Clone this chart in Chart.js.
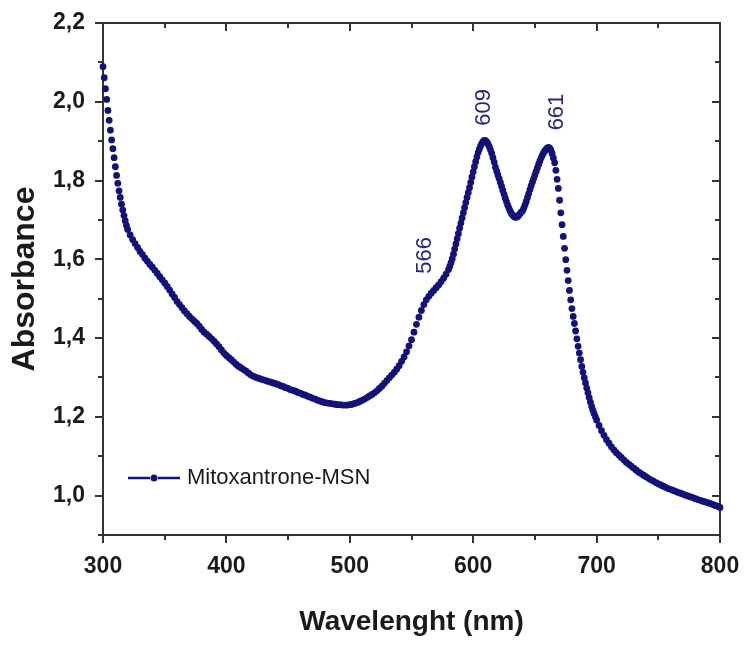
<!DOCTYPE html>
<html>
<head>
<meta charset="utf-8">
<script src="https://cdn.jsdelivr.net/npm/chart.js@4.4.0/dist/chart.umd.min.js"></script>
<style>
  html, body { margin: 0; padding: 0; background: #fff; }
</style>
</head>
<body>
<canvas id="chart" width="745" height="647"></canvas>
<script>
// wavelength sampling: [start, end, step] in nm
const sampleRanges = [[300, 320, 1], [322, 578, 2], [580, 700, 1], [702, 800, 2]];

// absorbance, one array per sampling range
const absSteep = [
  2.089, 2.061, 2.033, 2.006, 1.978, 1.953, 1.928, 1.903, 1.881, 1.858,
  1.835, 1.813, 1.793, 1.774, 1.757, 1.740, 1.725, 1.711, 1.698, 1.686,
  1.676
];
const absValley = [
  1.662, 1.650, 1.640, 1.630, 1.620, 1.612, 1.603, 1.595, 1.587, 1.580,
  1.572, 1.564, 1.556, 1.548, 1.540, 1.531, 1.522, 1.512, 1.503, 1.493,
  1.485, 1.477, 1.469, 1.462, 1.455, 1.449, 1.443, 1.437, 1.430, 1.422,
  1.415, 1.410, 1.404, 1.398, 1.392, 1.385, 1.378, 1.370, 1.362, 1.356,
  1.350, 1.345, 1.339, 1.333, 1.328, 1.324, 1.320, 1.316, 1.311, 1.306,
  1.303, 1.300, 1.298, 1.296, 1.294, 1.292, 1.290, 1.288, 1.286, 1.284,
  1.282, 1.279, 1.277, 1.274, 1.272, 1.269, 1.267, 1.265, 1.262, 1.260,
  1.257, 1.255, 1.252, 1.250, 1.247, 1.245, 1.242, 1.240, 1.238, 1.236,
  1.235, 1.234, 1.233, 1.232, 1.231, 1.231, 1.230, 1.230, 1.230, 1.231,
  1.232, 1.234, 1.236, 1.239, 1.242, 1.245, 1.249, 1.253, 1.257, 1.261,
  1.266, 1.272, 1.278, 1.285, 1.292, 1.299, 1.306, 1.313, 1.321, 1.330,
  1.341, 1.352, 1.365, 1.380, 1.396, 1.415, 1.435, 1.453, 1.470, 1.485,
  1.497, 1.506, 1.514, 1.521, 1.528, 1.535, 1.543, 1.552, 1.562
];
const absPeaks = [
  1.574, 1.582, 1.591, 1.601, 1.613, 1.626, 1.639, 1.652, 1.665, 1.679,
  1.692, 1.705, 1.718, 1.731, 1.744, 1.757, 1.769, 1.782, 1.795, 1.809,
  1.822, 1.835, 1.848, 1.860, 1.871, 1.880, 1.888, 1.894, 1.899, 1.902,
  1.901, 1.898, 1.893, 1.886, 1.878, 1.869, 1.858, 1.847, 1.834, 1.824,
  1.814, 1.805, 1.795, 1.785, 1.775, 1.765, 1.755, 1.746, 1.737, 1.729,
  1.722, 1.716, 1.712, 1.709, 1.707, 1.707, 1.709, 1.712, 1.716, 1.720,
  1.723, 1.730, 1.738, 1.747, 1.757, 1.767, 1.777, 1.787, 1.796, 1.805,
  1.814, 1.823, 1.832, 1.841, 1.849, 1.857, 1.864, 1.870, 1.875, 1.879,
  1.882, 1.884, 1.882, 1.877, 1.868, 1.857, 1.845, 1.826, 1.803, 1.780,
  1.750, 1.718, 1.688, 1.658, 1.628, 1.599, 1.572, 1.546, 1.521, 1.497,
  1.475, 1.455, 1.437, 1.418, 1.398, 1.379, 1.362, 1.345, 1.328, 1.313,
  1.299, 1.286, 1.273, 1.261, 1.249, 1.237, 1.226, 1.217, 1.208, 1.200,
  1.192
];
const absTail = [
  1.178, 1.165, 1.153, 1.142, 1.133, 1.124, 1.116, 1.109, 1.103, 1.097,
  1.091, 1.085, 1.080, 1.075, 1.070, 1.065, 1.060, 1.056, 1.052, 1.048,
  1.044, 1.040, 1.037, 1.033, 1.030, 1.027, 1.024, 1.021, 1.018, 1.016,
  1.013, 1.011, 1.008, 1.006, 1.004, 1.001, 0.999, 0.997, 0.995, 0.992,
  0.990, 0.988, 0.986, 0.984, 0.982, 0.980, 0.978, 0.975, 0.973, 0.970
];

// peak annotations (label, wavelength, absorbance where the label sits)
const peakLabels = ['566', '609', '661'];
const peakLabelX = [561, 609, 668];
const peakLabelY = [1.61, 1.986, 1.974];

const seriesName = 'Mitoxantrone-MSN';
const seriesColor = '#12127a';
const axisColor = '#333333';

const points = [];
[absSteep, absValley, absPeaks, absTail].forEach((vals, i) => {
  const [start, , step] = sampleRanges[i];
  vals.forEach((v, j) => points.push({ x: start + j * step, y: v }));
});

Chart.defaults.font.family = '"Liberation Sans", Arial, sans-serif';
Chart.defaults.color = '#1a1a1a';

// box frame + ticks: outward on left/bottom, inward on top/right
const frame = {
  id: 'frame',
  beforeDatasetsDraw(chart) {
    const { ctx, chartArea: a, scales: { x, y } } = chart;
    ctx.save();
    ctx.strokeStyle = axisColor;
    ctx.lineWidth = 2;
    ctx.strokeRect(a.left, a.top, a.right - a.left, a.bottom - a.top);
    ctx.beginPath();
    x.ticks.forEach(t => {
      const px = Math.round(x.getPixelForValue(t.value));
      const len = t.value % 100 === 0 ? 8 : 5;
      ctx.moveTo(px, a.bottom); ctx.lineTo(px, a.bottom + len);
      ctx.moveTo(px, a.top); ctx.lineTo(px, a.top + len);
    });
    y.ticks.forEach(t => {
      const py = Math.round(y.getPixelForValue(t.value));
      const len = Math.round(t.value * 10) % 2 === 0 ? 8 : 5;
      ctx.moveTo(a.left, py); ctx.lineTo(a.left - len, py);
      ctx.moveTo(a.right, py); ctx.lineTo(a.right - len, py);
    });
    ctx.stroke();
    ctx.restore();
  },
  afterDraw(chart) {
    const { ctx, chartArea: a, scales: { x, y } } = chart;
    ctx.save();
    // peak labels
    ctx.fillStyle = '#25258a';
    ctx.font = '22px "Liberation Sans", Arial, sans-serif';
    ctx.textAlign = 'center';
    ctx.textBaseline = 'middle';
    peakLabels.forEach((txt, i) => {
      ctx.save();
      ctx.translate(x.getPixelForValue(peakLabelX[i]), y.getPixelForValue(peakLabelY[i]));
      ctx.rotate(-Math.PI / 2);
      ctx.fillText(txt, 0, 0);
      ctx.restore();
    });
    // legend
    const ly = a.bottom - 57;
    const lx = a.left + 25;
    ctx.strokeStyle = seriesColor;
    ctx.lineWidth = 2.5;
    ctx.beginPath();
    ctx.moveTo(lx, ly); ctx.lineTo(lx + 22, ly);
    ctx.moveTo(lx + 30, ly); ctx.lineTo(lx + 52, ly);
    ctx.stroke();
    ctx.fillStyle = seriesColor;
    ctx.beginPath();
    ctx.arc(lx + 26, ly, 3.5, 0, Math.PI * 2);
    ctx.fill();
    ctx.fillStyle = '#1a1a1a';
    ctx.font = '22px "Liberation Sans", Arial, sans-serif';
    ctx.textAlign = 'left';
    ctx.fillText(seriesName, lx + 59, ly);
    ctx.restore();
  }
};

new Chart(document.getElementById('chart'), {
  type: 'line',
  data: {
    datasets: [{
      label: seriesName,
      data: points,
      showLine: false,
      borderColor: seriesColor,
      backgroundColor: seriesColor,
      pointRadius: 3.4,
      pointBorderWidth: 0,
      clip: false
    }]
  },
  options: {
    responsive: false,
    animation: false,
    layout: { padding: { top: 23, right: 25, left: 0, bottom: 0 } },
    plugins: { legend: { display: false }, tooltip: { enabled: false } },
    scales: {
      x: {
        type: 'linear',
        min: 300,
        max: 800,
        grid: { display: false, drawTicks: false },
        border: { display: false },
        ticks: {
          stepSize: 50,
          autoSkip: false,
          maxRotation: 0,
          padding: 18,
          font: { size: 23, weight: 'bold' },
          callback: v => (v % 100 === 0 ? v : '')
        },
        title: {
          display: true,
          text: 'Wavelenght (nm)',
          font: { size: 28, weight: 'bold' },
          padding: { top: 0, bottom: 8 }
        },
        afterFit: s => { s.height = 112; s.paddingLeft = 0; s.paddingRight = 0; }
      },
      y: {
        min: 0.9,
        max: 2.2,
        grid: { display: false, drawTicks: false },
        border: { display: false },
        ticks: {
          stepSize: 0.1,
          autoSkip: false,
          padding: 18,
          font: { size: 23, weight: 'bold' },
          callback: v => {
            const k = Math.round(v * 10);
            return k % 2 === 0 && k >= 10 ? (k / 10).toFixed(1).replace('.', ',') : '';
          }
        },
        title: {
          display: true,
          text: 'Absorbance',
          font: { size: 32, weight: 'bold' },
          padding: { top: 6, bottom: 0 }
        },
        afterFit: s => { s.width = 103; s.paddingTop = 0; s.paddingBottom = 0; }
      }
    }
  },
  plugins: [frame]
});
</script>
</body>
</html>
